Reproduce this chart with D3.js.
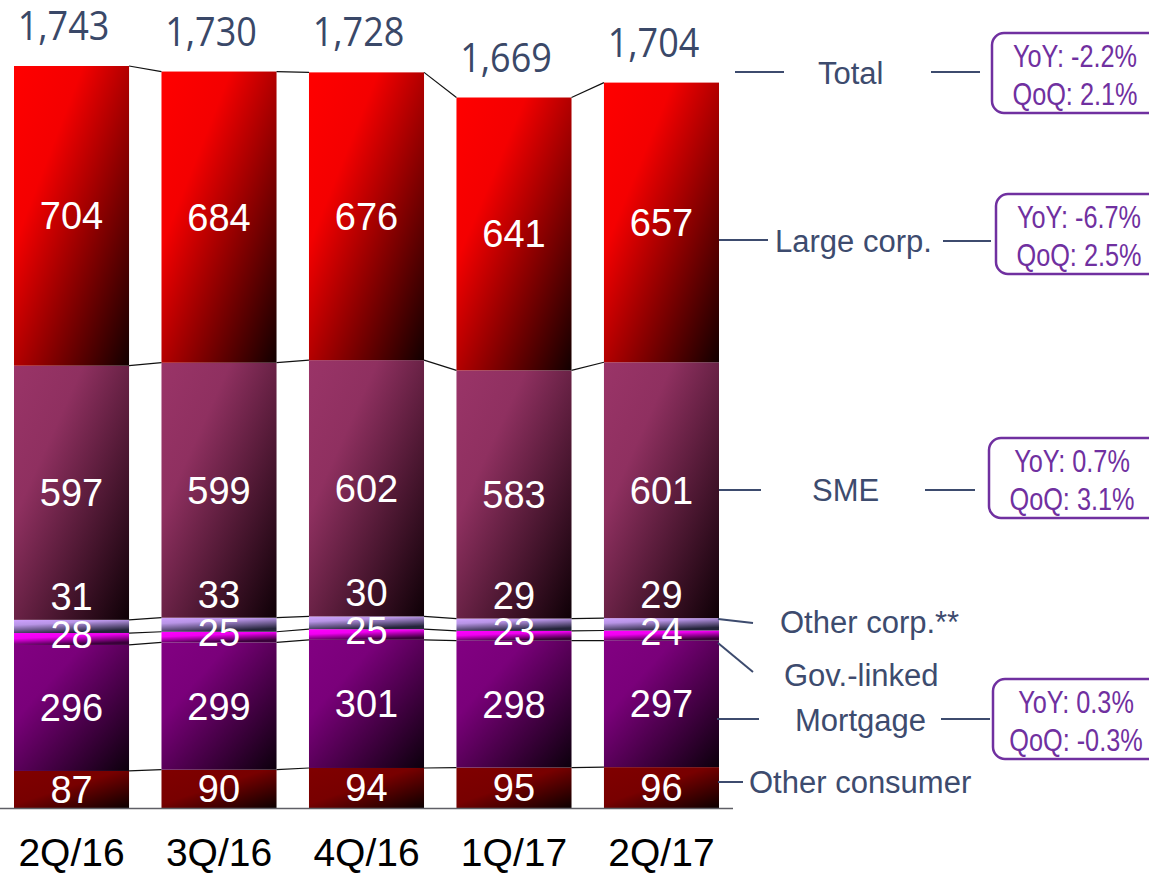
<!DOCTYPE html>
<html>
<head>
<meta charset="utf-8">
<script src="https://cdn.jsdelivr.net/npm/d3@7"></script>
<style>
  html, body { margin: 0; padding: 0; background: #fff; overflow: hidden; }
  svg { display: block; }
</style>
</head>
<body>
<svg id="chart" width="1149" height="873"></svg>
<script>
// Loan portfolio by segment, quarterly
const quarters      = ["2Q/16", "3Q/16", "4Q/16", "1Q/17", "2Q/17"];
const otherConsumer = [87, 90, 94, 95, 96];
const mortgage      = [296, 299, 301, 298, 297];
const govLinked     = [28, 25, 25, 23, 24];
const otherCorp     = [31, 33, 30, 29, 29];
const sme           = [597, 599, 602, 583, 601];
const largeCorp     = [704, 684, 676, 641, 657];
const totals        = [1743, 1730, 1728, 1669, 1704];

const segmentNames = ["Other consumer", "Mortgage", "Gov.-linked", "Other corp.**", "SME", "Large corp."];
const segmentValues = [otherConsumer, mortgage, govLinked, otherCorp, sme, largeCorp];

const growthNames = ["Total", "Large corp.", "SME", "Mortgage"];
const yoyChange   = ["-2.2%", "-6.7%", "0.7%", "0.3%"];
const qoqChange   = ["2.1%", "2.5%", "3.1%", "-0.3%"];

// ---- table for the stack layout
const table = quarters.map((q, i) => {
  const row = { quarter: q };
  segmentNames.forEach((k, j) => row[k] = segmentValues[j][i]);
  return row;
});
const series = d3.stack().keys(segmentNames)(table);

const svg = d3.select("#chart");

const x = d3.scaleBand().domain(quarters).range([14, 719]).paddingInner(0.22).paddingOuter(0);
const y = d3.scaleLinear().domain([0, 1743]).range([808, 66]);
const bw = x.bandwidth();

// ---- gradient fills, one per segment
const fills = {
  "Large corp.":    { stops: [[0, "#ff0000"], [0.3, "#f40000"], [1, "#120000"]], x2: 1, y2: 1 },
  "SME":            { stops: [[0, "#9a3468"], [0.3, "#8f3060"], [1, "#0e0006"]], x2: 1, y2: 1 },
  "Other corp.**":  { stops: [[0, "#cfa2ff"], [0.35, "#b894e6"], [1, "#24243a"]], x2: 0.45, y2: 1 },
  "Gov.-linked":    { stops: [[0, "#ff00ff"], [0.4, "#f000f0"], [1, "#3a003a"]], x2: 0.45, y2: 1 },
  "Mortgage":       { stops: [[0, "#820082"], [0.3, "#7a007a"], [1, "#0c000c"]], x2: 1, y2: 1 },
  "Other consumer": { stops: [[0, "#800000"], [0.45, "#780000"], [1, "#0c0000"]], x2: 1, y2: 1 }
};
const defs = svg.append("defs");
segmentNames.forEach((k, i) => {
  const f = fills[k];
  const g = defs.append("linearGradient")
    .attr("id", "grad" + i)
    .attr("x1", 0).attr("y1", 0).attr("x2", f.x2).attr("y2", f.y2);
  f.stops.forEach(s => g.append("stop").attr("offset", s[0]).attr("stop-color", s[1]));
});

// ---- bars
const layers = svg.append("g").selectAll("g")
  .data(series).join("g")
  .attr("fill", (d, i) => `url(#grad${i})`);

layers.selectAll("rect")
  .data(d => d)
  .join("rect")
  .attr("x", d => x(d.data.quarter))
  .attr("y", d => y(d[1]))
  .attr("width", bw)
  .attr("height", d => y(d[0]) - y(d[1]));

// ---- connector lines between bars at each segment boundary
const connectors = svg.append("g").attr("stroke", "#111").attr("stroke-width", 1.2);
series.forEach(s => {
  for (let i = 0; i < s.length - 1; i++) {
    connectors.append("line")
      .attr("x1", x(quarters[i]) + bw).attr("y1", y(s[i][1]))
      .attr("x2", x(quarters[i + 1])).attr("y2", y(s[i + 1][1]));
  }
});

// ---- baseline
svg.append("line")
  .attr("x1", 0).attr("x2", 733)
  .attr("y1", y(0) + 0.5).attr("y2", y(0) + 0.5)
  .attr("stroke", "#5f5f66").attr("stroke-width", 1.6);

// ---- segment value labels
const valueFont = "'Liberation Sans', Arial, sans-serif";
const labels = svg.append("g")
  .attr("fill", "#fff")
  .attr("font-family", valueFont)
  .attr("font-size", 38)
  .attr("text-anchor", "middle");

series.forEach(s => {
  const key = s.key;
  s.forEach(d => {
    const cx = x(d.data.quarter) + bw / 2;
    const top = y(d[1]), bot = y(d[0]);
    let base;
    if (key === "Other corp.**") base = top - 10;
    else if (key === "Gov.-linked") base = (top + bot) / 2 + 9;
    else base = (top + bot) / 2 + 13.5;
    labels.append("text")
      .attr("x", cx).attr("y", base)
      .text(d.data[key]);
  });
});

// ---- totals above the bars
const fmt = d3.format(",");
svg.append("g")
  .attr("fill", "#3a4868")
  .attr("font-family", "'Open Sans', 'Noto Sans', sans-serif")
  .attr("font-size", 40)
  .attr("text-anchor", "middle")
  .selectAll("text")
  .data(totals)
  .join("text")
  .attr("transform", (d, i) => `translate(${x(quarters[i]) + bw / 2 - 8},${y(d) - 26}) scale(0.9,1)`)
  .text(d => fmt(d));

// ---- category labels
svg.append("g")
  .attr("fill", "#000")
  .attr("font-family", valueFont)
  .attr("font-size", 39)
  .attr("text-anchor", "middle")
  .selectAll("text")
  .data(quarters)
  .join("text")
  .attr("x", d => x(d) + bw / 2)
  .attr("y", 866)
  .text(d => d);

// ---- right-hand annotations
const ink = "#3d4b6e";
const purple = "#7030a0";
const ann = svg.append("g");

const rowLayout = [
  { name: "Total",          tx: 818, ty: 84,  left: [[735, 72], [784, 72]],   right: [[931, 72], [980, 72]],   box: [992, 33] },
  { name: "Large corp.",    tx: 775, ty: 252, left: [[719, 240], [768, 240]], right: [[943, 241], [991, 241]], box: [996, 194] },
  { name: "SME",            tx: 812, ty: 501, left: [[719, 490], [761, 490]], right: [[925, 490], [975, 490]], box: [989, 438] },
  { name: "Other corp.**",  tx: 780, ty: 633, left: [[718, 619], [753, 623]] },
  { name: "Gov.-linked",    tx: 784, ty: 686, left: [[718, 643], [753, 672]] },
  { name: "Mortgage",       tx: 795, ty: 731, left: [[717, 719], [759, 719]], right: [[941, 719], [990, 719]], box: [993, 679] },
  { name: "Other consumer", tx: 749, ty: 793, left: [[718, 782], [743, 782]] }
];

rowLayout.forEach(r => {
  ann.append("text")
    .attr("x", r.tx).attr("y", r.ty)
    .attr("fill", ink)
    .attr("font-family", valueFont)
    .attr("font-size", 31)
    .text(r.name);
  [r.left, r.right].filter(Boolean).forEach(l => {
    ann.append("line")
      .attr("x1", l[0][0]).attr("y1", l[0][1])
      .attr("x2", l[1][0]).attr("y2", l[1][1])
      .attr("stroke", ink).attr("stroke-width", 2);
  });
  if (r.box) {
    const gi = growthNames.indexOf(r.name);
    const [bx, by] = r.box;
    ann.append("rect")
      .attr("x", bx).attr("y", by)
      .attr("width", 175).attr("height", 80)
      .attr("rx", 12).attr("ry", 12)
      .attr("fill", "#fff")
      .attr("stroke", purple).attr("stroke-width", 2.5);
    // condensed two-line growth figures
    const t = ann.append("g")
      .attr("fill", purple)
      .attr("font-family", valueFont)
      .attr("font-size", 32)
      .attr("text-anchor", "middle");
    t.append("text")
      .attr("transform", `translate(${bx + 83},${by + 34}) scale(0.79,1)`)
      .text("YoY: " + yoyChange[gi]);
    t.append("text")
      .attr("transform", `translate(${bx + 83},${by + 72}) scale(0.79,1)`)
      .text("QoQ: " + qoqChange[gi]);
  }
});
</script>
</body>
</html>
